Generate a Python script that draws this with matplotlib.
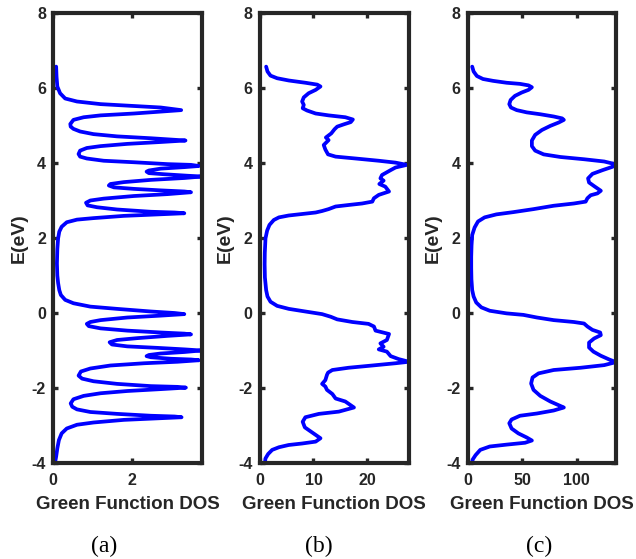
import matplotlib
matplotlib.use("Agg")
import matplotlib.pyplot as plt

plt.rcParams['font.family'] = ['Liberation Sans', 'DejaVu Sans']
plt.rcParams['axes.unicode_minus'] = False

# ---- panel (a): Green function DOS, small system ----
energy_a = [6.57, 6.30, 6.04, 5.86, 5.72, 5.64, 5.57, 5.52, 5.48, 5.41, 5.37, 5.32,
            5.27, 5.22, 5.15, 5.04, 4.97, 4.91, 4.84, 4.77, 4.71, 4.66, 4.62, 4.60,
            4.56, 4.51, 4.45, 4.40, 4.33, 4.24, 4.17, 4.12, 4.06, 4.02, 3.97, 3.95,
            3.92, 3.89, 3.85, 3.80, 3.77, 3.73, 3.70, 3.66, 3.64, 3.60, 3.55, 3.49,
            3.44, 3.40, 3.35, 3.31, 3.27, 3.24, 3.22, 3.17, 3.12, 3.05, 3.00, 2.94,
            2.87, 2.82, 2.76, 2.70, 2.68, 2.66, 2.63, 2.59, 2.53, 2.49, 2.42, 2.30,
            2.17, 1.99, 1.70, 1.32, 1.00, 0.80,
            0.61, 0.48, 0.35, 0.26, 0.17, 0.11, 0.04, 0.00, -0.03, -0.07, -0.12,
            -0.19, -0.24, -0.29, -0.35, -0.41, -0.47, -0.52, -0.55, -0.57, -0.61,
            -0.67, -0.72, -0.78, -0.84, -0.89, -0.93, -0.97, -1.00, -1.04, -1.08,
            -1.12, -1.15, -1.18, -1.22, -1.24, -1.26, -1.30, -1.34, -1.40, -1.48,
            -1.56, -1.67, -1.75, -1.82, -1.89, -1.95, -1.97, -1.99, -2.03, -2.08,
            -2.14, -2.21, -2.30, -2.41, -2.50, -2.57, -2.64, -2.69, -2.74, -2.76,
            -2.78, -2.81, -2.85, -2.92, -2.98, -3.08, -3.21, -3.39, -3.61, -3.83,
            -4.00]
dos_a = [0.08, 0.09, 0.11, 0.18, 0.31, 0.61, 1.21, 2.06, 2.74, 3.26, 2.74, 2.06,
         1.21, 0.78, 0.52, 0.44, 0.45, 0.52, 0.69, 1.03, 1.63, 2.49, 3.09, 3.37,
         2.74, 1.89, 1.21, 0.86, 0.69, 0.65, 0.69, 0.86, 1.29, 2.06, 2.91, 3.51,
         3.71, 3.34, 2.74, 2.44, 2.38, 2.44, 2.83, 3.43, 3.79, 3.34, 2.49, 1.80,
         1.46, 1.42, 1.55, 2.06, 2.74, 3.34, 3.51, 2.91, 2.06, 1.29, 0.95, 0.84,
         0.88, 1.12, 1.63, 2.49, 3.09, 3.34, 2.66, 1.80, 1.03, 0.61, 0.35, 0.22,
         0.16, 0.13, 0.11, 0.10, 0.11, 0.13,
         0.16, 0.20, 0.31, 0.52, 0.95, 1.63, 2.49, 3.09, 3.34, 2.74, 1.89,
         1.21, 0.95, 0.86, 0.91, 1.21, 1.89, 2.74, 3.34, 3.51, 2.91,
         2.15, 1.63, 1.44, 1.50, 1.89, 2.66, 3.34, 3.77, 3.34, 2.74,
         2.44, 2.38, 2.49, 3.00, 3.51, 3.71, 3.17, 2.32, 1.46, 0.95,
         0.71, 0.65, 0.74, 1.03, 1.63, 2.49, 3.17, 3.38, 2.74, 1.89,
         1.21, 0.78, 0.52, 0.45, 0.49, 0.61, 0.95, 1.63, 2.49, 3.09,
         3.27, 2.66, 1.80, 1.03, 0.61, 0.35, 0.22, 0.15, 0.11, 0.08,
         0.05]

# ---- panel (b) ----
energy_b = [6.57, 6.44, 6.33, 6.26, 6.20, 6.14, 6.09, 6.04, 5.95, 5.86, 5.75, 5.64,
            5.55, 5.46, 5.40, 5.32, 5.27, 5.22, 5.16, 5.09, 5.03, 4.97, 4.90, 4.79,
            4.68, 4.61, 4.48, 4.36, 4.23, 4.17, 4.12, 4.06, 4.01, 3.95, 3.88, 3.81,
            3.68, 3.59, 3.53, 3.44, 3.37, 3.24, 3.15, 3.06, 2.97, 2.92, 2.88, 2.84,
            2.77, 2.72, 2.68, 2.64, 2.60, 2.55, 2.48, 2.35, 2.20, 1.99, 1.60, 1.30,
            0.95,
            0.61, 0.44, 0.30, 0.19, 0.11, 0.04, -0.03, -0.10, -0.17, -0.24, -0.29,
            -0.36, -0.47, -0.56, -0.72, -0.81, -0.90, -0.97, -1.03, -1.15, -1.23,
            -1.30, -1.34, -1.40, -1.46, -1.52, -1.59, -1.65, -1.79, -1.89, -1.96,
            -2.05, -2.16, -2.28, -2.36, -2.52, -2.63, -2.69, -2.78, -2.90, -3.05,
            -3.19, -3.34, -3.43, -3.48, -3.52, -3.58, -3.65, -3.76, -3.88, -4.00]
dos_b = [1.23, 1.48, 2.04, 3.27, 5.43, 8.5, 10.7, 11.3, 10.4, 9.1, 8.2, 7.9,
         8.2, 8.0, 8.8, 10.4, 12.8, 15.9, 17.3, 16.9, 15.6, 14.4, 13.9, 13.3,
         12.3, 12.8, 11.9, 12.2, 12.7, 14.1, 17.8, 22.1, 25.2, 27.3, 25.2, 24.3,
         22.7, 22.4, 23.0, 22.2, 23.3, 24.0, 22.1, 21.2, 20.9, 19.0, 16.5, 14.1,
         12.8, 11.6, 10.4, 7.9, 5.4, 3.6, 2.65, 1.85, 1.42, 1.11, 0.98, 0.95,
         1.0,
         1.23, 1.48, 2.04, 3.27, 5.43, 8.5, 11.6, 13.2, 14.4, 17.2, 20.2,
         21.2, 21.5, 24.0, 23.6, 22.4, 23.0, 22.1, 23.6, 24.3, 25.8,
         27.7, 25.2, 20.9, 16.5, 13.5, 12.7, 12.5, 12.2, 11.6, 12.2,
         12.5, 13.5, 14.1, 15.9, 17.5, 14.7, 11.0, 8.5, 8.0, 8.4,
         9.8, 11.3, 10.4, 7.9, 5.4, 3.6, 2.35, 1.6, 1.1, 1.0]

# ---- panel (c) ----
energy_c = [6.57, 6.44, 6.32, 6.24, 6.19, 6.14, 6.11, 6.07, 6.02, 5.95, 5.88, 5.79,
            5.68, 5.57, 5.48, 5.41, 5.35, 5.30, 5.24, 5.19, 5.15, 5.08, 4.99, 4.88,
            4.75, 4.60, 4.45, 4.33, 4.23, 4.16, 4.10, 4.04, 3.97, 3.90, 3.81, 3.71,
            3.59, 3.48, 3.37, 3.26, 3.19, 3.14, 3.06, 2.97, 2.92, 2.86, 2.77, 2.69,
            2.63, 2.55, 2.44, 2.28, 2.08, 1.80, 1.50, 1.20, 0.90,
            0.61, 0.44, 0.28, 0.15, 0.06, -0.01, -0.05, -0.12, -0.19, -0.24, -0.28,
            -0.36, -0.45, -0.52, -0.59, -0.68, -0.79, -0.92, -1.03, -1.14, -1.24,
            -1.31, -1.39, -1.46, -1.52, -1.61, -1.72, -1.88, -2.05, -2.21, -2.36,
            -2.48, -2.52, -2.60, -2.68, -2.74, -2.84, -2.94, -3.08, -3.21, -3.32,
            -3.40, -3.46, -3.51, -3.56, -3.65, -3.79, -3.90, -4.00]
dos_c = [4.3, 5.6, 8.6, 14.2, 23.5, 35.8, 48.1, 55.9, 59.0, 55.9, 49.7, 43.5,
         39.5, 38.3, 39.8, 45.1, 54.3, 66.7, 79.0, 86.7, 88.3, 83.6, 75.9, 68.2,
         62.0, 59.0, 59.0, 62.0, 69.8, 85.2, 106.8, 125.3, 135.2, 133.0, 123.8, 114.5,
         110.5, 111.4, 116.7, 122.2, 119.1, 112.9, 109.9, 108.3, 97.5, 79.0, 60.5, 42.0,
         26.5, 15.7, 9.6, 6.5, 4.3, 3.7, 3.4, 3.4, 3.6,
         4.3, 5.6, 8.0, 12.7, 20.4, 35.8, 51.2, 63.6, 79.0, 97.5, 106.8,
         109.9, 114.5, 121.6, 122.2, 116.0, 111.4, 111.4, 115.4, 122.2, 129.9,
         136.1, 125.3, 103.7, 79.0, 65.1, 59.6, 58.3, 60.5, 66.7, 75.9,
         85.2, 88.3, 79.0, 63.6, 48.1, 40.4, 38.3, 40.4, 46.6, 54.3,
         59.0, 52.8, 35.8, 20.4, 11.7, 7.4, 4.9, 4.0]

x_ticks = [[0, 2], [0, 10, 20], [0, 50, 100]]
y_ticks = [-4, -2, 0, 2, 4, 6, 8]
panel_tags = ['(a)', '(b)', '(c)']

W, H = 636, 559
fig = plt.figure(figsize=(W / 100, H / 100), dpi=100)

# axes boxes in pixels: (left, right)
boxes = [(53, 202), (259.5, 409), (467.5, 616)]
top_px, bot_px = 13, 463
tag_x = [104, 319, 539]

ink = '#262626'
series = [(dos_a, energy_a), (dos_b, energy_b), (dos_c, energy_c)]

for i, ((xl, xr), (dos, en)) in enumerate(zip(boxes, series)):
    ax = fig.add_axes([xl / W, (H - bot_px) / H, (xr - xl) / W, (bot_px - top_px) / H])
    ax.plot(dos, en, color='#0000ff', lw=2.7, solid_joinstyle='round',
            solid_capstyle='round')
    ax.set_xlim(0, max(dos))
    ax.set_ylim(-4, 8)
    ax.set_xticks(x_ticks[i])
    ax.set_yticks(y_ticks)
    for s in ax.spines.values():
        s.set_linewidth(3.0)
        s.set_color(ink)
    ax.tick_params(direction='in', top=True, right=True, length=3.6, width=2.4,
                   color=ink, labelcolor=ink, labelsize=11.5)
    ax.tick_params(axis='x', pad=7)
    ax.tick_params(axis='y', pad=5)
    for lab in ax.get_xticklabels() + ax.get_yticklabels():
        lab.set_fontweight('bold')
    ax.set_xlabel('Green Function DOS', fontsize=13.5, fontweight='bold',
                  color=ink, labelpad=6)
    ax.set_ylabel('E(eV)', fontsize=14, fontweight='bold', color=ink, labelpad=3)
    fig.text(tag_x[i] / W, 1 - 546 / H, panel_tags[i], ha='center', va='center',
             fontsize=17, family=['Liberation Serif', 'DejaVu Serif'])

fig.savefig('out.png', dpi=100)
